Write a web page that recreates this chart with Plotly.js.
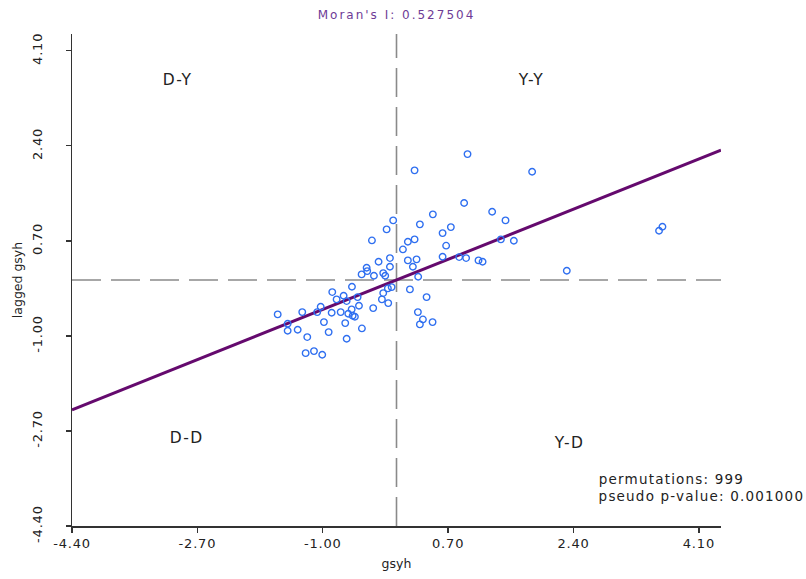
<!DOCTYPE html>
<html>
<head>
<meta charset="utf-8">
<script src="https://cdn.plot.ly/plotly-3.0.1.min.js"></script>
<style>
html, body { margin: 0; padding: 0; background: #fff; }
#chart { width: 806px; height: 579px; }
.xtick text, .ytick text { letter-spacing: 0.8px; }
.gtitle { letter-spacing: 2px; }
</style>
</head>
<body>
<div id="chart"></div>
<script>
// Standardized variable (gsyh) and its spatial lag
const gsyh = [0.963,0.245,0.917,-0.045,0.493,0.317,-0.134,0.625,0.737,-0.333,0.154,0.245,0.087,
  0.673,-0.243,-0.089,0.154,0.272,0.625,0.850,0.944,1.112,1.167,
  -0.405,-0.397,-0.473,-0.306,-0.180,-0.153,-0.089,0.222,0.294,
  -0.604,-0.871,-0.117,-0.066,-0.180,0.182,-0.717,-0.812,-0.527,-0.676,
  -0.198,-0.112,0.408,-1.028,-0.509,-1.611,-1.278,-1.075,-0.879,-0.757,
  -0.608,-0.654,-0.595,-0.564,-0.316,0.290,0.358,0.317,0.489,
  -1.476,-1.476,-1.340,-0.984,-0.695,-0.920,-0.469,-1.210,-0.676,
  -1.232,-1.119,-1.007,
  1.839,1.297,1.478,1.415,1.591,3.560,3.606,2.309];
const laggedGsyh = [2.252,1.961,1.376,1.066,1.174,0.995,0.905,0.839,0.946,0.708,0.685,0.726,0.547,
  0.614,0.327,0.392,0.351,0.369,0.417,0.410,0.392,0.351,0.327,
  0.220,0.159,0.100,0.077,0.123,0.077,0.238,0.238,0.059,
  -0.120,-0.216,-0.150,-0.127,-0.234,-0.168,-0.281,-0.347,-0.306,-0.377,
  -0.347,-0.413,-0.306,-0.478,-0.460,-0.615,-0.574,-0.574,-0.585,-0.574,
  -0.526,-0.603,-0.639,-0.657,-0.503,-0.574,-0.705,-0.794,-0.753,
  -0.782,-0.907,-0.889,-0.753,-0.771,-0.932,-0.866,-1.021,-1.050,
  -1.308,-1.272,-1.336,
  1.937,1.222,1.066,0.726,0.703,0.882,0.953,0.166];
const moranI = 0.527504;
const permutations = 999;
const pseudoP = 0.001000;
const tickVals = [-4.40, -2.70, -1.00, 0.70, 2.40, 4.10];
const tickText = ["-4.40", "-2.70", "-1.00", "0.70", "2.40", "4.10"];
const axisRange = [-4.4, 4.4];
const quadrantLabels = ["D-Y", "Y-Y", "D-D", "Y-D"];

const FONT = "DejaVu Sans, Verdana, sans-serif";
const lineX = axisRange.slice();
const lineY = lineX.map(v => moranI * v);

const traces = [
  {
    x: lineX, y: lineY, type: "scatter", mode: "lines",
    line: { color: "#650a6e", width: 3 }, hoverinfo: "skip", showlegend: false
  },
  {
    x: gsyh, y: laggedGsyh, type: "scatter", mode: "markers",
    marker: { symbol: "circle-open", size: 6.5, color: "#2f6ff0", line: { width: 1.4, color: "#2f6ff0" } },
    showlegend: false
  }
];

const axisCommon = {
  range: axisRange, autorange: false,
  tickmode: "array", tickvals: tickVals, ticktext: tickText,
  showline: true, linecolor: "#333", linewidth: 1.5, mirror: false,
  ticks: "outside", ticklen: 5, tickwidth: 1.3, tickcolor: "#333",
  showgrid: false, zeroline: false,
  tickfont: { family: FONT, size: 13, color: "#222" },
  automargin: false
};

const layout = {
  width: 806, height: 579,
  margin: { l: 72, r: 85, t: 34, b: 53 },
  paper_bgcolor: "#fff", plot_bgcolor: "#fff",
  title: {
    text: "Moran's I: " + moranI.toFixed(6),
    font: { family: FONT, size: 12, color: "#6e3b96" },
    x: 0.5, xref: "paper", y: 1 - 15 / 579, yref: "container", yanchor: "middle"
  },
  xaxis: Object.assign({}, axisCommon, {
    title: { text: "gsyh", font: { family: FONT, size: 12.5, color: "#222" }, standoff: 9 },
    ticklabelstandoff: 0
  }),
  yaxis: Object.assign({}, axisCommon, {
    tickangle: -90,
    ticklabelstandoff: 18,
    title: { text: "lagged gsyh", font: { family: FONT, size: 12.5, color: "#222" }, standoff: 5 }
  }),
  shapes: [
    { type: "line", xref: "x", yref: "paper", x0: 0, x1: 0, y0: 0, y1: 1, layer: "below",
      line: { color: "#8a8a8a", width: 1.6, dash: "29px,10px" } },
    { type: "line", xref: "paper", yref: "y", x0: 0, x1: 1, y0: 0, y1: 0, layer: "below",
      line: { color: "#8a8a8a", width: 1.6, dash: "29px,10px" } }
  ],
  annotations: [
    { text: quadrantLabels[0], x: -2.96, y: 3.57 },
    { text: quadrantLabels[1], x: 1.82, y: 3.57 },
    { text: quadrantLabels[2], x: -2.84, y: -2.82 },
    { text: quadrantLabels[3], x: 2.34, y: -2.91 }
  ].map(a => Object.assign(a, {
    xref: "x", yref: "y", showarrow: false, xanchor: "center", yanchor: "middle",
    font: { family: FONT, size: 15.5, color: "#222" }
  })).concat([
    { text: "permutations: " + permutations, xref: "paper", yref: "paper",
      x: (607 - 72) / 649, y: (526 - 479) / 492, xanchor: "left", yanchor: "middle",
      showarrow: false, font: { family: FONT, size: 13.5, color: "#222" } },
    { text: "pseudo p-value: " + pseudoP.toFixed(6), xref: "paper", yref: "paper",
      x: (611 - 72) / 649, y: (526 - 496) / 492, xanchor: "left", yanchor: "middle",
      showarrow: false, font: { family: FONT, size: 13.5, color: "#222" } }
  ])
};

Plotly.newPlot("chart", traces, layout, { displayModeBar: false, staticPlot: true }).then(function () {
  const texts = document.querySelectorAll(".annotation-text");
  texts.forEach(function (t) {
    const s = t.textContent;
    if (s.indexOf("permutations") === 0 || s.indexOf("pseudo") === 0) {
      t.style.letterSpacing = "1.2px";
    } else {
      t.style.letterSpacing = "1.5px";
    }
  });
});
</script>
</body>
</html>
